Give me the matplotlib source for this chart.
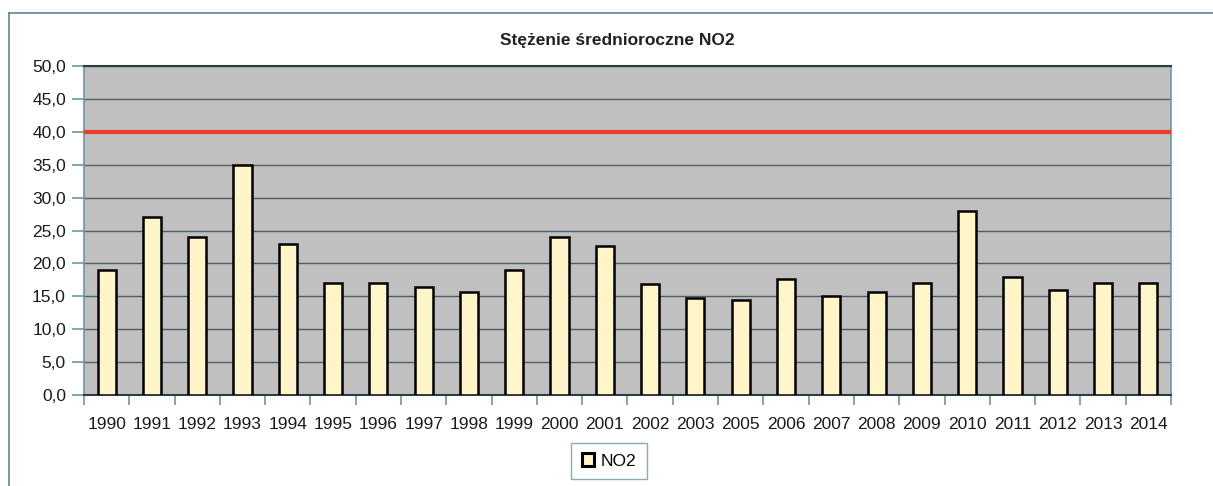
import matplotlib.pyplot as plt
from matplotlib.lines import Line2D
from matplotlib.patches import Patch

years = ['1990', '1991', '1992', '1993', '1994', '1995', '1996', '1997', '1998', '1999',
         '2000', '2001', '2002', '2003', '2005', '2006', '2007', '2008', '2009', '2010',
         '2011', '2012', '2013', '2014']
no2 = [19.0, 27.0, 24.0, 35.0, 23.0, 17.0, 17.0, 16.4, 15.6, 19.0,
       24.0, 22.6, 16.9, 14.7, 14.5, 17.6, 15.1, 15.6, 17.0, 28.0,
       18.0, 16.0, 17.0, 17.0]
limit = 40.0
y_ticks = [0, 5, 10, 15, 20, 25, 30, 35, 40, 45, 50]

plt.rcParams['font.family'] = ['Liberation Sans', 'DejaVu Sans']

fig = plt.figure(figsize=(12.13, 4.86), dpi=100)
ax = fig.add_axes([0.0692, 0.1872, 0.8962, 0.677])
ax.set_facecolor('#c0c0c0')

# outer chart frame (top and left edges only visible)
fig.add_artist(Line2D([9 / 1213, 1.0], [1 - 13 / 486, 1 - 13 / 486], color='#5f8796', lw=1.2))
fig.add_artist(Line2D([9 / 1213, 9 / 1213], [0.0, 1 - 13 / 486], color='#5f8796', lw=1.2))

x = list(range(len(years)))
ax.bar(x, no2, width=0.4, color='#fff5c8', edgecolor='black', linewidth=1.8, zorder=3)
ax.axhline(limit, color='#e8402a', lw=3, zorder=4)

ax.set_ylim(0, 50)
ax.set_xlim(-0.5, len(years) - 0.5)
ax.set_yticks(y_ticks)
ax.set_yticklabels([f'{v:.1f}'.replace('.', ',') for v in y_ticks], fontsize=12.5, color='#1a1a1a')
ax.yaxis.grid(True, color='#4e5f66', lw=1.0, zorder=1)
ax.set_axisbelow(True)

ax.set_xticks([i - 0.5 for i in range(len(years) + 1)])
ax.set_xticklabels([])
ax.set_xticks(x, minor=True)
ax.set_xticklabels(years, minor=True, fontsize=12.5, color='#1a1a1a')
ax.tick_params(axis='x', which='minor', length=0, pad=16)
ax.tick_params(axis='x', which='major', length=7, color='#6a97a8', width=1.2)
ax.tick_params(axis='y', length=9, color='#6a97a8', width=1.2, pad=4)

for side in ['top', 'bottom']:
    ax.spines[side].set_color('#2f3c42')
    ax.spines[side].set_linewidth(1.5)
ax.spines['left'].set_color('#6a97a8')
ax.spines['right'].set_color('#6a97a8')
ax.spines['left'].set_linewidth(1.2)
ax.spines['right'].set_linewidth(1.2)

fig.text(617 / 1213, 1 - 40 / 486, 'Stężenie średnioroczne NO2', ha='center', va='center',
         fontsize=12.5, fontweight='bold', color='#222222')

handle = Patch(facecolor='#fff5c8', edgecolor='black', linewidth=2.2)
leg = fig.legend([handle], ['NO2'], loc='center', bbox_to_anchor=(609 / 1213, 1 - 461 / 486),
                 fontsize=12.5, frameon=True, fancybox=False, handlelength=0.7, handleheight=0.7,
                 handletextpad=0.4, borderpad=0.6, borderaxespad=0)
leg.get_frame().set_edgecolor('#6a97a8')
leg.get_frame().set_linewidth(1.0)

fig.savefig('out.png', dpi=100)
